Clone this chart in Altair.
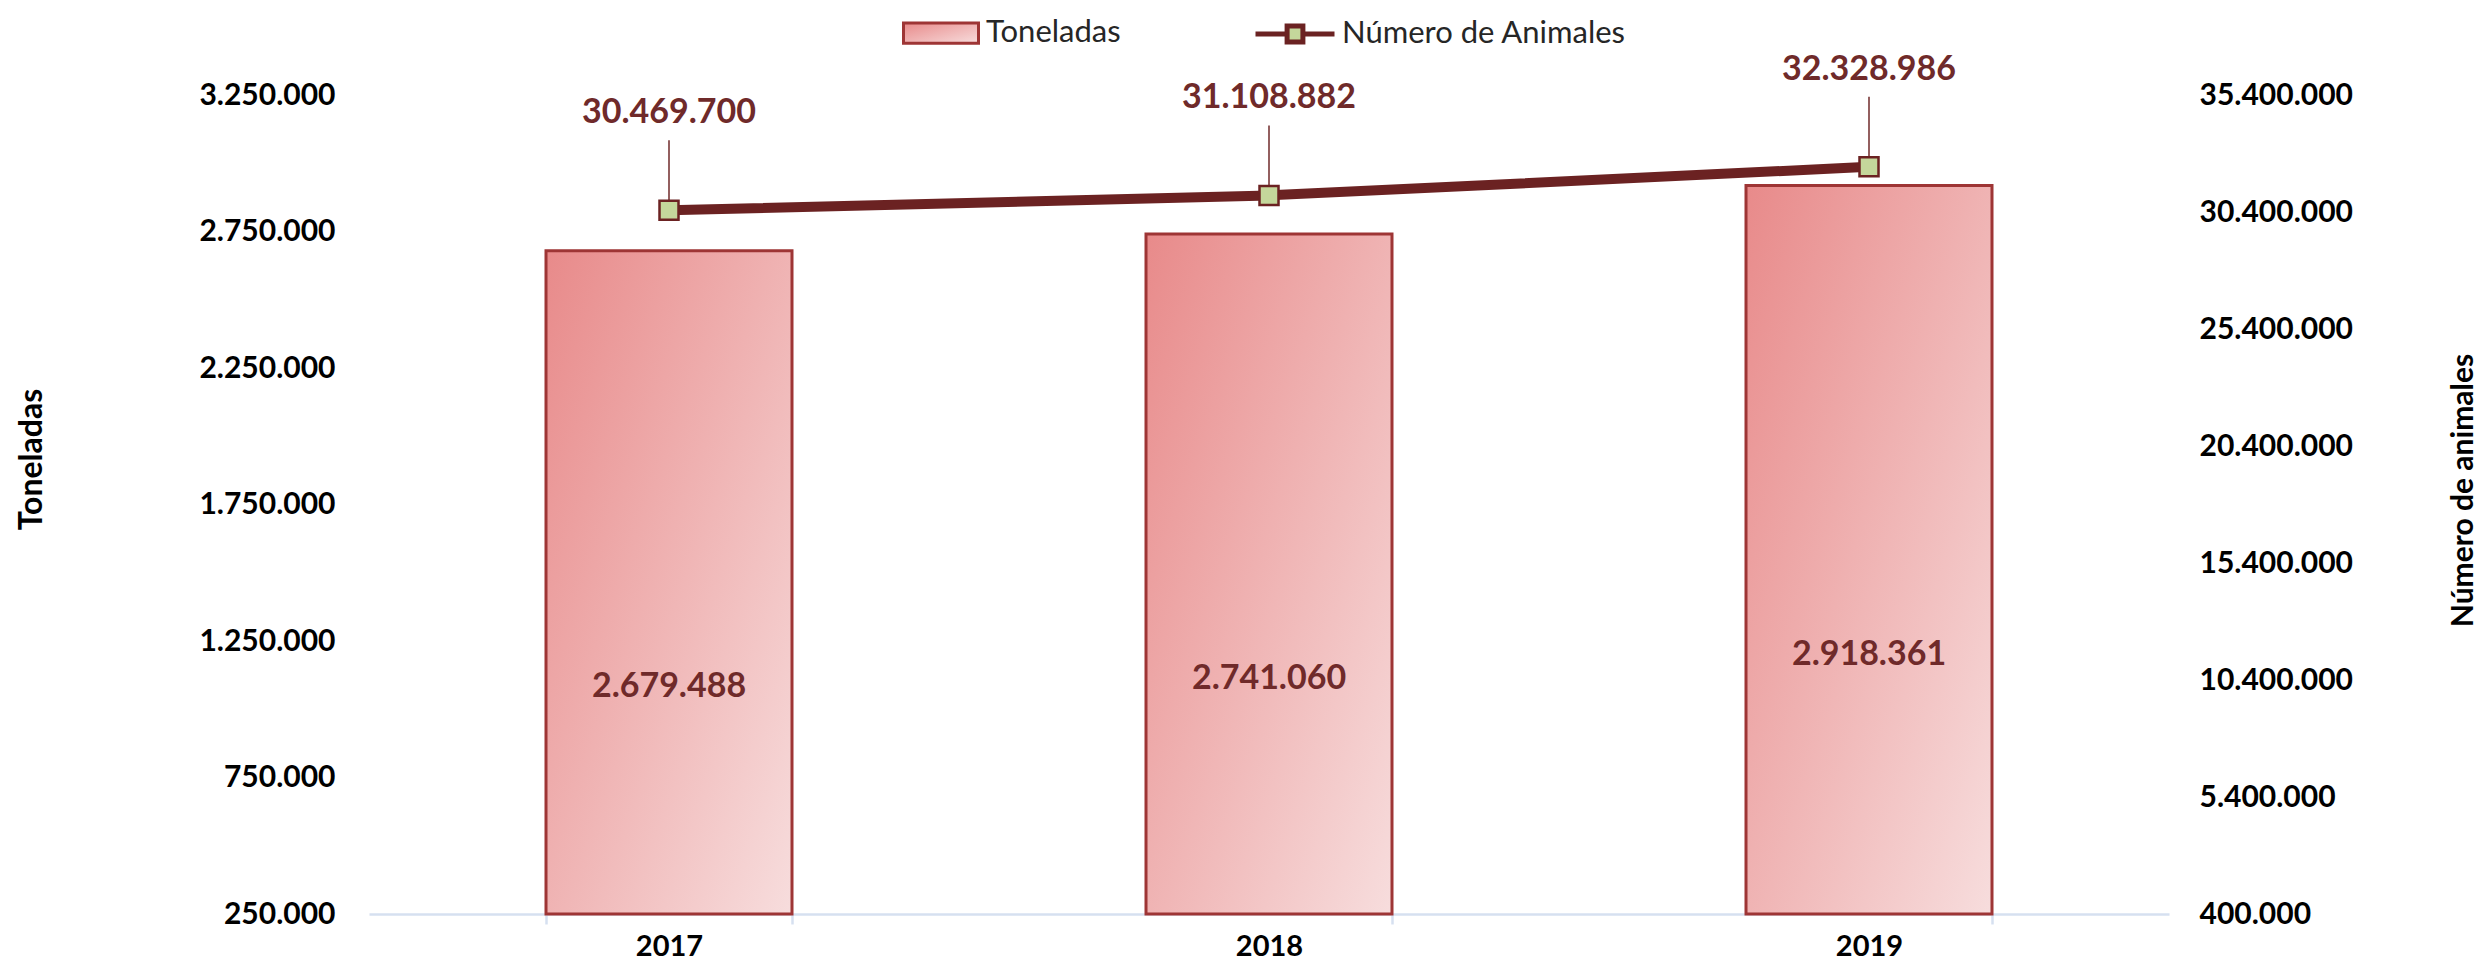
import altair as alt
import pandas as pd

# ---------------- data ----------------
years = ["2017", "2018", "2019"]
toneladas = [2679488, 2741060, 2918361]
animales = [30469700, 31108882, 32328986]
toneladas_ticks = [250000, 750000, 1250000, 1750000, 2250000, 2750000, 3250000]
animales_ticks = [400000, 5400000, 10400000, 15400000, 20400000, 25400000, 30400000, 35400000]
serie_bar = "Toneladas"
serie_line = "Número de Animales"
title_left = "Toneladas"
title_right = "Número de animales"

T_MIN, T_MAX = toneladas_ticks[0], toneladas_ticks[-1]
A_MIN, A_MAX = animales_ticks[0], animales_ticks[-1]


def fmt(v):
    return f"{v:,}".replace(",", ".")


df = pd.DataFrame({
    "year": years,
    "t": toneladas,
    "a": animales,
    "t_lbl": [fmt(v) for v in toneladas],
    "a_lbl": [fmt(v) for v in animales],
    "s1": serie_bar,
    "s2": serie_line,
})

# ---------------- styles ----------------
FONT = "Lato"
LABEL_EXPR = "join(split(format(datum.value, ',.0f'), ','), '.')"
BAR_STROKE = "#9E3535"
LINE_COLOR = "#6B2222"
MARKER_FILL = "#C4D79B"
LABEL_COLOR = "#6F2A2A"
AXIS_LINE = "#D6E0F0"

W, H = 1800, 819

bar_gradient = alt.LinearGradient(
    gradient="linear",
    stops=[alt.GradientStop(offset=0, color="#E88A8A"),
           alt.GradientStop(offset=1, color="#F7DDDD")],
    x1=0, y1=0, x2=1, y2=1,
)

x_enc = alt.X(
    "year:N", sort=years, title=None,
    scale=alt.Scale(paddingInner=0.59, paddingOuter=0.295),
    axis=alt.Axis(labelFont=FONT, labelFontSize=29, labelFontWeight="bold",
                  labelColor="#000000", labelAngle=0, labelPadding=22,
                  labelBaseline="middle",
                  domainColor=AXIS_LINE, domainWidth=2.5,
                  tickColor=AXIS_LINE, tickWidth=2.5, tickSize=10,
                  tickBand="extent", grid=False),
)

left_scale = alt.Scale(domain=[T_MIN, T_MAX], nice=False, zero=False)
right_scale = alt.Scale(domain=[A_MIN, A_MAX], nice=False, zero=False)

left_axis = alt.Axis(
    values=toneladas_ticks, labelExpr=LABEL_EXPR, labelFont=FONT,
    labelFontSize=30, labelFontWeight="bold", labelColor="#000000",
    labelPadding=34, labelFlush=False, domain=False, ticks=False, grid=False,
    title=title_left, titleFont=FONT, titleFontSize=32, titleFontWeight="bold",
    titleColor="#000000", titleAngle=270, titleAlign="center",
    titleBaseline="middle", titleX=-338, titleY=364,
)
right_axis = alt.Axis(
    orient="right", values=animales_ticks, labelExpr=LABEL_EXPR,
    labelFont=FONT, labelFontSize=30, labelFontWeight="bold",
    labelColor="#000000", labelPadding=30, labelFlush=False, domain=False,
    ticks=False, grid=False,
    title=title_right, titleFont=FONT, titleFontSize=30, titleFontWeight="bold",
    titleColor="#000000", titleAngle=270, titleAlign="center",
    titleBaseline="middle", titleX=294, titleY=395,
)

base = alt.Chart(df).encode(x=x_enc)

# ---------------- left (bars) ----------------
bars = base.mark_bar(fill=bar_gradient, strokeWidth=3).encode(
    y=alt.Y("t:Q", scale=left_scale, axis=left_axis),
    y2=alt.datum(T_MIN),
    stroke=alt.Stroke(
        "s1:N", scale=alt.Scale(range=[BAR_STROKE]),
        legend=alt.Legend(
            orient="none", legendX=533, legendY=-101, title=None, padding=0,
            symbolType="M-1,-0.27H1V0.27H-1Z", symbolSize=5625,
            symbolFillColor="#F0B4B4", symbolStrokeWidth=3,
            labelFont=FONT, labelFontSize=31, labelColor="#262626",
            labelOffset=6, labelLimit=600,
        ),
    ),
)

bar_text = base.mark_text(
    font=FONT, fontSize=34, fontWeight="bold", color=LABEL_COLOR, dy=105
).transform_calculate(
    mid=f"(datum.t + {T_MIN}) / 2"
).encode(
    y=alt.Y("mid:Q", scale=left_scale, axis=left_axis),
    text="t_lbl:N",
)

left_layer = alt.layer(bars, bar_text)

# ---------------- right (line) ----------------
y_right = alt.Y("a:Q", scale=right_scale, axis=right_axis)

line = base.mark_line(strokeWidth=10, strokeCap="round").encode(
    y=y_right,
    color=alt.Color(
        "s2:N", scale=alt.Scale(range=[LINE_COLOR]),
        legend=alt.Legend(
            orient="none", legendX=884, legendY=-103, title=None, padding=0,
            symbolType="M-1,0H-0.2M0.2,0H1M-0.2,-0.2H0.2V0.2H-0.2Z",
            symbolSize=6241, symbolFillColor=MARKER_FILL,
            symbolStrokeWidth=5, symbolOpacity=1,
            labelFont=FONT, labelFontSize=31, labelColor="#262626",
            labelOffset=5, labelLimit=600,
        ),
    ),
)

leader = base.mark_rule(color=LABEL_COLOR, strokeWidth=1.5, y2Offset=-70).encode(
    y=y_right, y2=alt.Y2("a:Q"),
)

points = base.mark_point(
    shape="square", filled=True, size=361, fill=MARKER_FILL,
    stroke=LINE_COLOR, strokeWidth=2.5, opacity=1,
).encode(y=y_right)

line_text = base.mark_text(
    font=FONT, fontSize=34, fontWeight="bold", color=LABEL_COLOR, dy=-97
).encode(y=y_right, text="a_lbl:N")

right_layer = alt.layer(line, leader, points, line_text)

chart = alt.layer(left_layer, right_layer).resolve_scale(
    y="independent"
).properties(
    width=W, height=H,
    padding={"left": 361, "top": 87, "right": 314, "bottom": 49},
    autosize=alt.AutoSizeParams(type="none"),
).configure_view(stroke=None)

chart.save("out.html", embed_options={"renderer": "svg", "actions": False})
